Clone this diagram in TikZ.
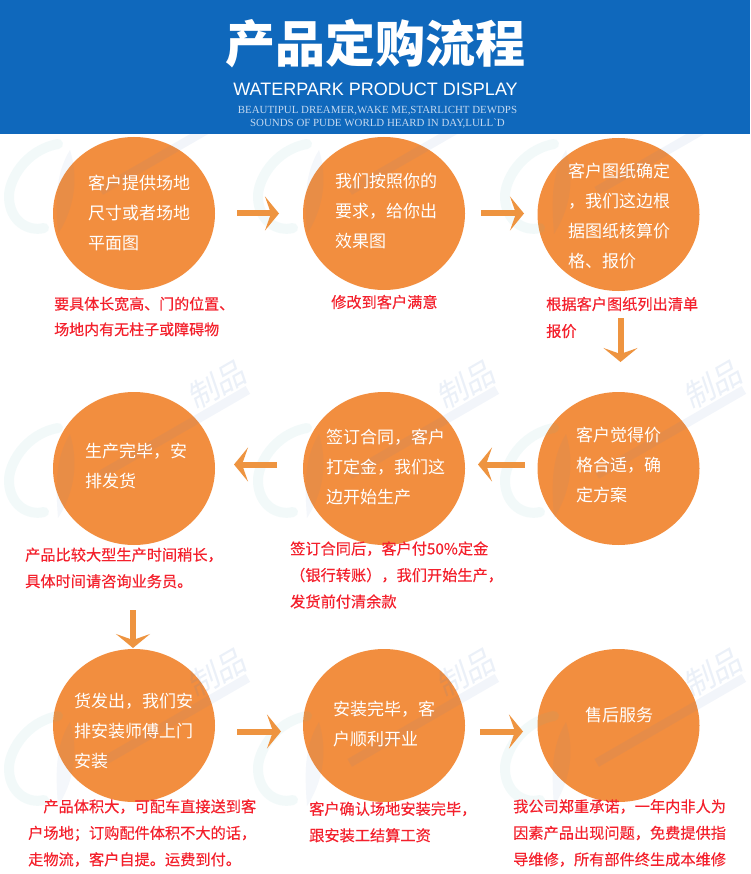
\documentclass[tikz,border=0pt]{standalone}
\usepackage{fontspec}
\usetikzlibrary{arrows.meta,calc,shapes.geometric}
\setmainfont{Noto Sans CJK SC}
\newfontfamily\latinsans{Liberation Sans}
\newfontfamily\latinserif{Liberation Serif}
\newfontfamily\notefont[FakeBold=0.25]{Noto Sans CJK SC}
\newfontfamily\wmfont[FakeSlant=0.2]{Noto Sans CJK SC}
\definecolor{banner}{HTML}{0F68BC}
\definecolor{disc}{HTML}{F28E3F}
\definecolor{flow}{HTML}{EE9440}
\definecolor{note}{HTML}{F4202C}
\definecolor{paleblue}{HTML}{C2D8F0}
\definecolor{wmteal}{HTML}{5FBDBD}
\definecolor{wmblue}{HTML}{4A7FC0}
\tikzset{
  disc/.style={ellipse,fill=disc,minimum width=162pt,minimum height=153pt,inner sep=0pt,outer sep=0pt},
  disctext/.style={anchor=west,align=left,inner sep=0pt,text=white,font=\fontsize{17}{30}\selectfont},
  notetext/.style={anchor=west,align=left,inner sep=0pt,text=note,font=\notefont\fontsize{15.2}{26.5}\selectfont},
  flowarrow/.style={draw=flow,line width=6pt,-{Stealth[length=14pt,width=34pt,inset=6pt,fill=flow]}},
}
\newcommand{\wmark}[2]{%
  \begin{scope}[shift={(#1,#2)}]
    \draw[wmteal,opacity=.08,line width=10pt,line cap=round] (58,8) .. controls (25,14) and (8,45) .. (9,62) .. controls (10,85) and (28,96) .. (44,92);
    \fill[wmblue,opacity=.06] (70,14) .. controls (78,40) and (76,70) .. (58,98) .. controls (56,70) and (54,40) .. cycle;
    \begin{scope}[shift={(174,12)},rotate=30]
      \fill[wmblue,opacity=.07] (-85,-4) rectangle (85,5);
    \end{scope}
  \end{scope}}
\newcommand{\wmword}[2]{%
  \node[text=wmblue,opacity=.11,rotate=30,inner sep=0pt,font=\wmfont\fontsize{31}{31}\selectfont] (w#1-#2) at (#1+174+42,#2+12-47) {制品};}
\begin{document}
\begin{tikzpicture}[x=1pt,y=-1pt]
\useasboundingbox (0,0) rectangle (750,874);
\fill[white] (0,0) rectangle (750,874);
% discs
\node[disc] (c1) at (134,213.5) {};
\node[disc] (c2) at (384,213.5) {};
\node[disc] (c3) at (618.5,214.5) {};
\node[disc] (c4) at (134,468.5) {};
\node[disc] (c5) at (384,468.5) {};
\node[disc] (c6) at (618.5,468.5) {};
\node[disc] (c7) at (134,725.5) {};
\node[disc] (c8) at (384,725.5) {};
\node[disc] (c9) at (618.5,725.5) {};
% watermark
\foreach \dx in {0,249,496}{
  \wmark{\dx}{136}
  \wmark{\dx}{420}
  \wmark{\dx}{708}
  \wmword{\dx}{420}
  \wmword{\dx}{708}
}
% banner
\fill[banner] (0,0) rectangle (750,134);
\node[inner sep=0pt,text=white,font=\fontsize{50}{50}\selectfont\bfseries] (title) at (375,44) {产品定购流程};
\node[inner sep=0pt,text=white,font=\latinsans\fontsize{18}{20}\selectfont] (sub) at (375.5,89.5) {WATERPARK PRODUCT DISPLAY};
\node[inner sep=0pt,text=paleblue,font=\latinserif\fontsize{10.9}{14}\selectfont] (tag1) at (377.5,110.5) {BEAUTIPUL DREAMER,WAKE ME,STARLICHT DEWDPS};
\node[inner sep=0pt,text=paleblue,font=\latinserif\fontsize{10.9}{14}\selectfont] (tag2) at (377.5,124) {SOUNDS OF PUDE WORLD HEARD IN DAY,LULL`D};
% disc texts
\node[disctext] (t1) at (88,213) {客户提供场地\\尺寸或者场地\\平面图};
\node[disctext] (t2) at (335,211) {我们按照你的\\要求，给你出\\效果图};
\node[disctext] (t3) at (568,216) {客户图纸确定\\，我们这边根\\据图纸核算价\\格、报价};
\node[disctext] (t4) at (85,466) {生产完毕，安\\排发货};
\node[disctext] (t5) at (326,467) {签订合同，客户\\打定金，我们这\\边开始生产};
\node[disctext] (t6) at (576,465) {客户觉得价\\格合适，确\\定方案};
\node[disctext] (t7) at (74,731) {货发出，我们安\\排安装师傅上门\\安装};
\node[disctext] (t8) at (333,724) {安装完毕，客\\户顺利开业};
\node[disctext] (t9) at (585,715) {售后服务};
% notes
\node[notetext,font=\notefont\fontsize{15}{25.5}\selectfont] (n1) at (54,316.5) {要具体长宽高、门的位置、\\场地内有无柱子或障碍物};
\node[notetext] (n2) at (331,302) {修改到客户满意};
\node[notetext,font=\notefont\fontsize{15.2}{27}\selectfont] (n3) at (546,317.5) {根据客户图纸列出清单\\报价};
\node[notetext] (n4) at (25,568) {产品比较大型生产时间稍长，\\具体时间请咨询业务员。};
\node[notetext] (n5) at (290,575) {签订合同后，客户付50\%定金\\（银行转账），我们开始生产，\\发货前付清余款};
\node[notetext] (n7) at (28,833) {\hspace*{15.2pt}产品体积大，可配车直接送到客\\户场地；订购配件体积不大的话，\\走物流，客户自提。运费到付。};
\node[notetext] (n8) at (309,822) {客户确认场地安装完毕，\\跟安装工结算工资};
\node[notetext] (n9) at (513,833) {我公司郑重承诺，一年内非人为\\因素产品出现问题，免费提供指\\导维修，所有部件终生成本维修};
% connectors
\draw[flowarrow] ($(c1.east)+(22,0)$) -- ($(c2.west)+(-24,0)$);
\draw[flowarrow] ($(c2.east)+(16,0)$) -- ($(c3.west)+(-13.5,-1)$);
\draw[flowarrow] ($(c3.south)+(2,27)$) -- ($(c6.north)+(2,-30)$);
\draw[flowarrow] ($(c6.west)+(-13,-4)$) -- ($(c5.east)+(13,-4)$);
\draw[flowarrow] ($(c5.west)+(-26,-4)$) -- ($(c4.east)+(19,-4)$);
\draw[flowarrow] ($(c4.south)+(-1,65)$) -- ($(c7.north)+(-1,-1)$);
\draw[flowarrow] ($(c7.east)+(22,6)$) -- ($(c8.west)+(-22,6)$);
\draw[flowarrow] ($(c8.east)+(15,6)$) -- ($(c9.west)+(-14.5,6)$);
\end{tikzpicture}
\end{document}
